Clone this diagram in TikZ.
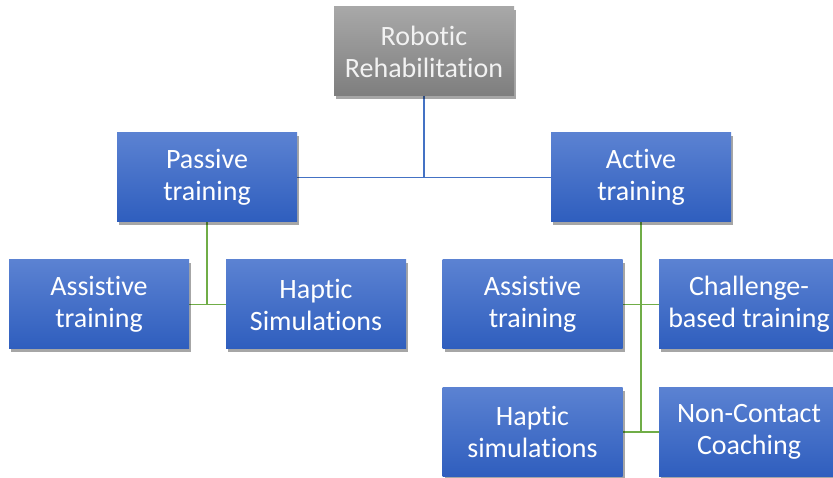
\documentclass[tikz,border=0pt]{standalone}
\usepackage{fontspec}
\setmainfont{Carlito}[RawFeature={-liga;-dlig;-clig;-calt}]
\usetikzlibrary{shadows,backgrounds}
\definecolor{bluetop}{HTML}{5B82D2}
\definecolor{bluebot}{HTML}{2F5EBE}
\definecolor{graytop}{HTML}{A8A8A8}
\definecolor{graybot}{HTML}{7E7E7E}
\definecolor{blueline}{HTML}{4472C4}
\definecolor{greenline}{HTML}{70AD47}
\definecolor{graytext}{HTML}{F2F2F2}
\tikzset{
  box/.style={rectangle, minimum width=180pt, minimum height=89pt, inner sep=2pt,
    align=center, font=\fontsize{28}{32}\selectfont, text=white,
    top color=bluetop, bottom color=bluebot, draw=none,
    drop shadow={shadow xshift=2pt, shadow yshift=-3pt, opacity=0.35, fill=black}},
  rootbox/.style={box, top color=graytop, bottom color=graybot, text=graytext},
  bline/.style={draw=blueline, line width=1.3pt},
  gline/.style={draw=greenline, line width=1.3pt}
}
\begin{document}
\begin{tikzpicture}[x=1pt,y=-1pt]
\clip (0,0) rectangle (833,478);
\useasboundingbox (0,0) rectangle (833,478);
\node[rootbox] (root) at (424,51.5) {Robotic\\Rehabilitation};
\node[box] (passive) at (207,177.5) {Passive\\training};
\node[box] (active) at (641,177.5) {Active\\training};
\node[box] (la) at (99,304.5) {Assistive\\training};
\node[box] (lh) at (316,304.5) {Haptic\\Simulations};
\node[box] (ra) at (532.5,304.5) {Assistive\\training};
\node[box] (rc) at (749,304.5) {Challenge-\\based training};
\node[box] (rh) at (532.5,432) {Haptic\\simulations};
\node[box] (rn) at (749,432) {Non-Contact\\Coaching};
\begin{scope}[on background layer]
\coordinate (j) at (root.south |- passive.east);
\draw[bline] (root.south) -- (j);
\draw[bline] (passive.east) -- (active.west);
\coordinate (pj) at (passive.south |- la.east);
\draw[gline] (passive.south) -- (pj);
\draw[gline] (la.east) -- (lh.west);
\coordinate (aj) at (active.south |- rh.east);
\draw[gline] (active.south) -- (aj);
\draw[gline] (ra.east) -- (rc.west);
\draw[gline] (rh.east) -- (rn.west);
\end{scope}
\end{tikzpicture}
\end{document}
